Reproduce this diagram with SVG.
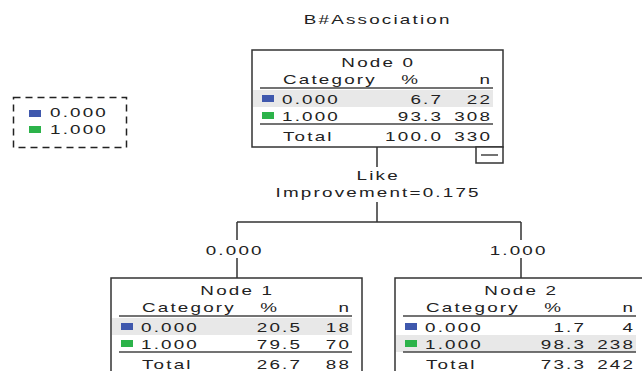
<svg xmlns="http://www.w3.org/2000/svg" width="642" height="371" viewBox="0 0 642 371">
<style>
text{font-family:"Liberation Sans",Arial,sans-serif;font-size:13px;fill:#222;letter-spacing:1.5px}
.m{text-anchor:middle}
.e{text-anchor:end}
.box{fill:#fff;stroke:#333;stroke-width:1.5}
.rule{stroke:#444;stroke-width:1.5;fill:none}
.hl{fill:#e8e8e8}
.c0{fill:#3f58ad}
.c1{fill:#2cb34a}
.conn{stroke:#333;stroke-width:1.5;fill:none}
</style>
<defs>
<g id="tbl">
<line class="rule" x1="8" y1="38" x2="241" y2="38"/>
<line class="rule" x1="8" y1="74" x2="241" y2="74"/>
<rect class="c0" x="10" y="45" width="12" height="7"/>
<rect class="c1" x="10" y="62" width="12" height="7"/>
</g>
</defs>
<rect width="642" height="371" fill="#fff"/>
<g transform="scale(1.45,1)"><text class="m" x="260.5" y="24">B#Association</text></g>

<g id="legend">
<rect x="13.5" y="97.5" width="113" height="50" fill="none" stroke="#222" stroke-width="1.5" stroke-dasharray="7 5"/>
<rect class="c0" x="29" y="110" width="12" height="7"/>
<rect class="c1" x="29" y="126" width="12" height="7"/>
<g transform="scale(1.45,1)"><text x="34.48" y="117">0.000</text><text x="34.48" y="134">1.000</text></g>
</g>

<g id="connectors">
<path class="conn" d="M377,147V167M377,202V222M237,222H521M237,222V240M521,222V240M237,258V278M521,258V278"/>
<g transform="scale(1.45,1)">
<text class="m" x="260.8" y="180">Like</text>
<text class="m" x="260.8" y="197">Improvement=0.175</text>
<text class="m" x="161.9" y="255">0.000</text>
<text class="m" x="357.7" y="255">1.000</text>
</g>
</g>

<g id="node0" transform="translate(252,50)">
<rect class="box" x="0" y="0" width="251" height="97"/>
<rect class="hl" x="1" y="40" width="240" height="17"/>
<use href="#tbl"/>
<rect class="box" x="224" y="97" width="27" height="16"/>
<line class="rule" x1="229" y1="105" x2="246" y2="105"/>
<g transform="scale(1.45,1)">
<text class="m" x="87.1" y="17">Node 0</text>
<text x="21.38" y="34">Category</text><text class="e" x="115.98" y="34">%</text><text class="e" x="165.64" y="34">n</text>
<text x="20.69" y="54">0.000</text><text class="e" x="131.84" y="54">6.7</text><text class="e" x="165.64" y="54">22</text>
<text x="20.69" y="71">1.000</text><text class="e" x="131.84" y="71">93.3</text><text class="e" x="165.64" y="71">308</text>
<text x="21.38" y="91">Total</text><text class="e" x="131.84" y="91">100.0</text><text class="e" x="165.64" y="91">330</text>
</g>
</g>

<g id="node1" transform="translate(111,278)">
<rect class="box" x="0" y="0" width="251" height="97"/>
<rect class="hl" x="1" y="40" width="240" height="17"/>
<use href="#tbl"/>
<g transform="scale(1.45,1)">
<text class="m" x="87.1" y="17">Node 1</text>
<text x="21.38" y="34">Category</text><text class="e" x="115.98" y="34">%</text><text class="e" x="165.64" y="34">n</text>
<text x="20.69" y="54">0.000</text><text class="e" x="131.84" y="54">20.5</text><text class="e" x="165.64" y="54">18</text>
<text x="20.69" y="71">1.000</text><text class="e" x="131.84" y="71">79.5</text><text class="e" x="165.64" y="71">70</text>
<text x="21.38" y="91">Total</text><text class="e" x="131.84" y="91">26.7</text><text class="e" x="165.64" y="91">88</text>
</g>
</g>

<g id="node2" transform="translate(395,278)">
<rect class="box" x="0" y="0" width="251" height="97"/>
<rect class="hl" x="1" y="57" width="240" height="17"/>
<use href="#tbl"/>
<g transform="scale(1.45,1)">
<text class="m" x="87.1" y="17">Node 2</text>
<text x="21.38" y="34">Category</text><text class="e" x="115.98" y="34">%</text><text class="e" x="165.64" y="34">n</text>
<text x="20.69" y="54">0.000</text><text class="e" x="131.84" y="54">1.7</text><text class="e" x="165.64" y="54">4</text>
<text x="20.69" y="71">1.000</text><text class="e" x="131.84" y="71">98.3</text><text class="e" x="165.64" y="71">238</text>
<text x="21.38" y="91">Total</text><text class="e" x="131.84" y="91">73.3</text><text class="e" x="165.64" y="91">242</text>
</g>
</g>
</svg>
